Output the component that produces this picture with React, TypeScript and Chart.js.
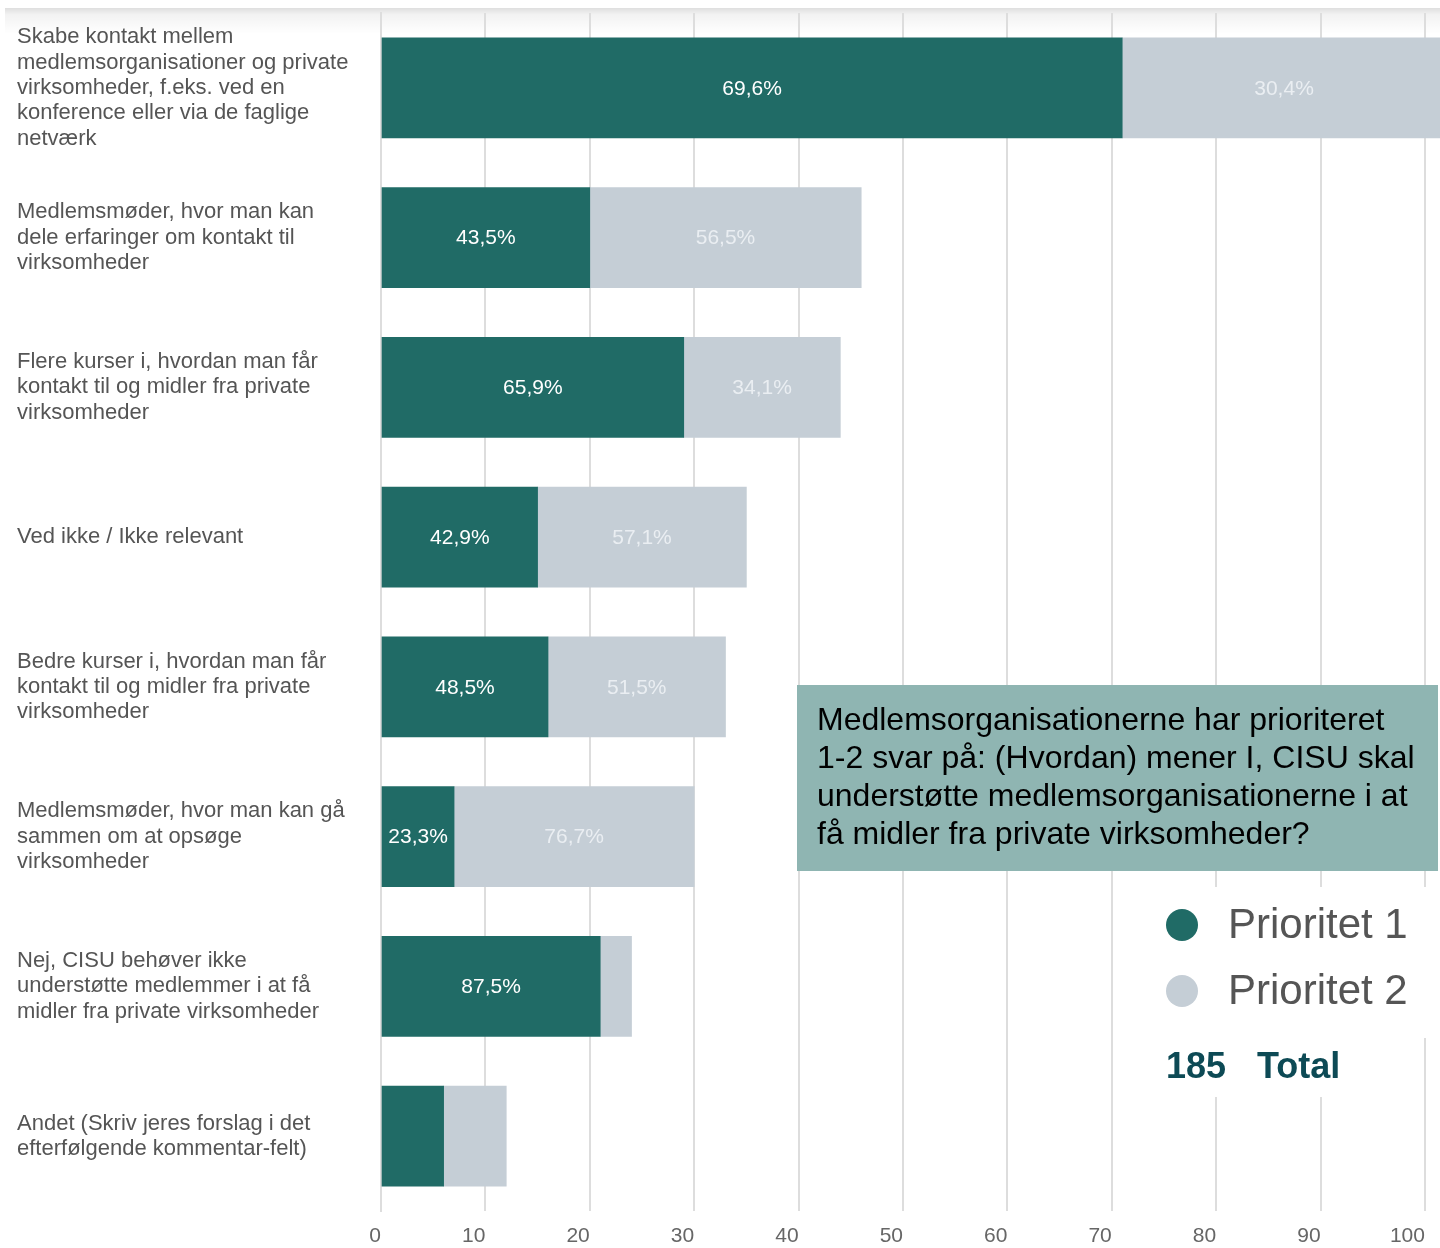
import React, { useEffect, useRef } from "react";
import { Chart, registerables } from "chart.js";

Chart.register(...registerables);

const categories: string[][] = [
  ["Skabe kontakt mellem", "medlemsorganisationer og private", "virksomheder, f.eks. ved en", "konference eller via de faglige", "netværk"],
  ["Medlemsmøder, hvor man kan", "dele erfaringer om kontakt til", "virksomheder"],
  ["Flere kurser i, hvordan man får", "kontakt til og midler fra private", "virksomheder"],
  ["Ved ikke / Ikke relevant"],
  ["Bedre kurser i, hvordan man får", "kontakt til og midler fra private", "virksomheder"],
  ["Medlemsmøder, hvor man kan gå", "sammen om at opsøge", "virksomheder"],
  ["Nej, CISU behøver ikke", "understøtte medlemmer i at få", "midler fra private virksomheder"],
  ["Andet (Skriv jeres forslag i det", "efterfølgende kommentar-felt)"],
];

const prioritet1: number[] = [71, 20, 29, 15, 16, 7, 21, 6];
const prioritet2: number[] = [31, 26, 15, 20, 17, 23, 3, 6];

const xTicks: number[] = [0, 10, 20, 30, 40, 50, 60, 70, 80, 90, 100];

const seriesNames = ["Prioritet 1", "Prioritet 2"];
const totalCount = "185";
const totalLabel = "Total";
const annotationLines = [
  "Medlemsorganisationerne har prioriteret",
  "1-2 svar på: (Hvordan) mener I, CISU skal",
  "understøtte medlemsorganisationerne i at",
  "få midler fra private virksomheder?",
];

const DARK = "#206b66";
const LIGHT = "#c5ced6";
const FONT = "Arial, 'Liberation Sans', sans-serif";

export default function App() {
  const ref = useRef<HTMLCanvasElement | null>(null);

  useEffect(() => {
    if (!ref.current) return;

    const overlay = {
      id: "overlay",
      beforeDraw(chart: any) {
        const ctx = chart.ctx;
        ctx.save();
        ctx.fillStyle = "#ffffff";
        ctx.fillRect(0, 0, chart.width, chart.height);
        const g = ctx.createLinearGradient(0, 8, 0, 34);
        g.addColorStop(0, "rgba(0,0,0,0.13)");
        g.addColorStop(0.25, "rgba(0,0,0,0.05)");
        g.addColorStop(1, "rgba(0,0,0,0)");
        ctx.fillStyle = g;
        ctx.fillRect(5, 8, chart.width - 5, 26);
        ctx.restore();
      },
      afterDatasetsDraw(chart: any) {
        const ctx = chart.ctx;
        ctx.save();
        ctx.font = `21px ${FONT}`;
        ctx.textAlign = "center";
        ctx.textBaseline = "middle";
        const totals = prioritet1.map((v, i) => v + prioritet2[i]);
        chart.data.datasets.forEach((ds: any, di: number) => {
          const meta = chart.getDatasetMeta(di);
          meta.data.forEach((el: any, i: number) => {
            const w = Math.abs(el.x - el.base);
            if (w < 70) return;
            const pct = ((ds.data[i] / totals[i]) * 100).toFixed(1).replace(".", ",") + "%";
            ctx.fillStyle = di === 0 ? "#ffffff" : "#eaeef2";
            ctx.fillText(pct, (el.x + el.base) / 2, el.y + 1);
          });
        });
        ctx.restore();
      },
      afterDraw(chart: any) {
        const ctx = chart.ctx;
        ctx.save();
        // annotation box
        ctx.fillStyle = "#8fb5b2";
        ctx.fillRect(797, 685, 641, 186);
        ctx.fillStyle = "#000000";
        ctx.font = `32px ${FONT}`;
        ctx.textAlign = "left";
        ctx.textBaseline = "middle";
        annotationLines.forEach((t, i) => ctx.fillText(t, 817, 721 + i * 38));
        // legend background
        ctx.fillStyle = "#ffffff";
        ctx.fillRect(1150, 887, 290, 151);
        ctx.fillRect(1150, 1038, 250, 59);
        // legend items
        const colors = [DARK, LIGHT];
        seriesNames.forEach((n, i) => {
          const cy = 925 + i * 66;
          ctx.fillStyle = colors[i];
          ctx.beginPath();
          ctx.arc(1182, cy, 16, 0, Math.PI * 2);
          ctx.fill();
          ctx.fillStyle = "#555555";
          ctx.font = `42px ${FONT}`;
          ctx.fillText(n, 1228, cy + 1);
        });
        ctx.fillStyle = "#0d4a55";
        ctx.font = `bold 36px ${FONT}`;
        ctx.fillText(totalCount, 1166, 1068);
        ctx.fillText(totalLabel, 1257, 1068);
        ctx.restore();
      },
    };

    const chart = new Chart(ref.current, {
      type: "bar",
      data: {
        labels: categories,
        datasets: [
          { label: seriesNames[0], data: prioritet1, backgroundColor: DARK, borderWidth: 0 },
          { label: seriesNames[1], data: prioritet2, backgroundColor: LIGHT, borderWidth: 0 },
        ],
      },
      options: {
        indexAxis: "y",
        animation: false,
        responsive: false,
        devicePixelRatio: 1,
        layout: { padding: { left: 17, top: 13, right: 0, bottom: 0 } },
        plugins: {
          legend: { display: false },
          tooltip: { enabled: false },
        },
        datasets: { bar: { barThickness: 100 } },
        scales: {
          x: {
            stacked: true,
            min: 0,
            max: 101.44,
            afterBuildTicks(scale: any) {
              scale.ticks = xTicks.map((v) => ({ value: v }));
            },
            afterFit(scale: any) {
              scale.height = 37;
              scale.paddingLeft = 0;
              scale.paddingRight = 0;
            },
            ticks: {
              align: "end",
              padding: 13,
              color: "#666666",
              font: { family: FONT, size: 21 },
            },
            grid: { color: "#dddddd", lineWidth: 2, drawTicks: false },
            border: { display: false },
          },
          y: {
            stacked: true,
            afterFit(scale: any) {
              scale.width = 364;
              scale.paddingTop = 0;
              scale.paddingBottom = 0;
            },
            ticks: {
              crossAlign: "far",
              color: "#555555",
              font: { family: FONT, size: 22, lineHeight: 1.15 },
            },
            grid: { display: false, drawTicks: false },
            border: { display: true, color: "#dddddd", width: 2 },
          },
        },
      },
      plugins: [overlay],
    } as any);

    return () => chart.destroy();
  }, []);

  return (
    <div style={{ position: "absolute", left: 0, top: 0, width: 1440, height: 1248 }}>
      <canvas ref={ref} width={1440} height={1248} style={{ width: 1440, height: 1248 }} />
    </div>
  );
}
